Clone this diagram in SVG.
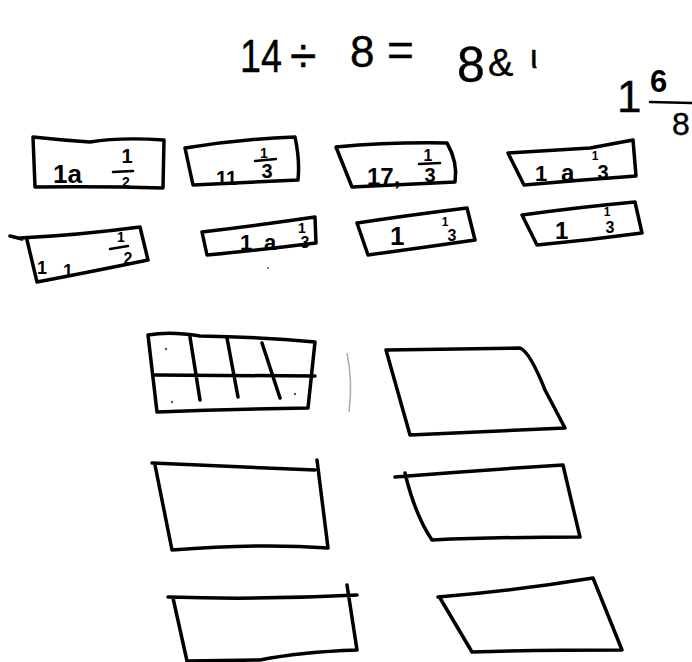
<svg xmlns="http://www.w3.org/2000/svg" width="692" height="662" viewBox="0 0 692 662">
<style>
.ink{fill:none;stroke:#000;stroke-width:3.5;stroke-linecap:round;stroke-linejoin:round}
.thin{fill:none;stroke:#000;stroke-width:2.5;stroke-linecap:round}
.hw{font-family:'Liberation Sans',Arial,sans-serif;fill:#000}
.t{stroke:#000;stroke-width:0.4}
.b{font-weight:bold}
.m{text-anchor:middle}
.dot{fill:#555}
</style>
<rect width="692" height="662" fill="#fff"/>

<g id="equation" class="hw t">
  <text x="240" y="72" font-size="46" textLength="42" lengthAdjust="spacingAndGlyphs">14</text>
  <text x="290" y="72" font-size="48">÷</text>
  <text x="350" y="67" font-size="44">8</text>
  <text x="387" y="66" font-size="46">=</text>
  <text x="457" y="82" font-size="50">8</text>
  <text x="488" y="76" font-size="38">&amp;</text>
  <text x="530" y="68" font-size="34">ι</text>
</g>

<g id="answer" class="hw">
  <text x="617" y="112" font-size="44" class="t">1</text>
  <text x="650" y="92" font-size="31" class="b">6</text>
  <path class="thin" d="M650,102 L692,103"/>
  <text x="672" y="135" font-size="32" class="t">8</text>
</g>

<g id="box-r1c1">
  <path class="ink" d="M33,137 Q60,140 90,142 Q120,137 164,140 L163,188 Q100,186 35,187 Z"/>
  <text class="hw b" x="53" y="183" font-size="26">1a</text>
  <text class="hw b m" x="127" y="163" font-size="20">1</text>
  <path class="thin" d="M113,172 L133,171"/>
  <text class="hw b m" x="126" y="187" font-size="14">2</text>
</g>

<g id="box-r1c2">
  <path class="ink" d="M185,148 Q240,139 295,137 Q300,160 298,180 L193,185 Z"/>
  <text class="hw b" x="216" y="185" font-size="20">11</text>
  <text class="hw b m" x="264" y="158" font-size="14">1</text>
  <path class="thin" d="M255,161 L276,159"/>
  <text class="hw b m" x="267" y="178" font-size="20">3</text>
</g>

<g id="box-r1c3">
  <path class="ink" d="M336,147 Q390,142 447,143 Q458,162 455,182 L352,187 Z"/>
  <text class="hw b" x="367" y="185" font-size="24">17,</text>
  <text class="hw b m" x="428" y="161" font-size="16">1</text>
  <path class="thin" d="M419,164 L440,163"/>
  <text class="hw b m" x="430" y="182" font-size="20">3</text>
</g>

<g id="box-r1c4">
  <path class="ink" d="M508,153 Q560,150 590,148 L633,140 L636,176 Q580,180 524,185 Z"/>
  <text class="hw b" x="535" y="181" font-size="22">1</text>
  <text class="hw b" x="561" y="181" font-size="24">a</text>
  <text class="hw b m" x="595" y="160" font-size="12">1</text>
  <text class="hw b m" x="603" y="179" font-size="20">3</text>
</g>

<g id="box-r2c1">
  <path class="ink" d="M10,236 L22,239 M20,238 Q80,235 140,227 L148,260 Q90,272 37,282 L27,240"/>
  <text class="hw b" x="37" y="274" font-size="18">1</text>
  <text class="hw b" x="63" y="277" font-size="18">1</text>
  <text class="hw b m" x="121" y="242" font-size="14">1</text>
  <path class="thin" d="M110,249 L128,246"/>
  <text class="hw b m" x="128" y="264" font-size="16">2</text>
</g>

<g id="box-r2c2">
  <path class="ink" d="M202,232 Q260,225 315,217 L316,243 Q260,250 207,255 Z"/>
  <text class="hw b" x="240" y="250" font-size="22">1</text>
  <text class="hw b" x="264" y="250" font-size="22">a</text>
  <text class="hw b m" x="302" y="233" font-size="14">1</text>
  <text class="hw b m" x="305" y="248" font-size="16">3</text>
</g>

<g id="box-r2c3">
  <path class="ink" d="M357,223 Q410,215 467,208 L475,240 Q420,248 368,255 Z"/>
  <text class="hw b" x="390" y="245" font-size="26">1</text>
  <text class="hw b m" x="445" y="226" font-size="12">1</text>
  <text class="hw b m" x="452" y="241" font-size="16">3</text>
</g>

<g id="box-r2c4">
  <path class="ink" d="M522,215 Q580,207 635,202 L642,233 Q590,240 537,245 Z"/>
  <text class="hw b" x="555" y="239" font-size="24">1</text>
  <text class="hw b m" x="607" y="216" font-size="12">1</text>
  <text class="hw b m" x="610" y="233" font-size="16">3</text>
</g>

<g id="grid-rect">
  <path class="ink" d="M148,335 Q170,331 200,336 Q260,337 315,342 L308,408 Q230,409 157,412 Z"/>
  <path class="ink" d="M155,375 L315,376 M190,337 L200,400 M227,338 L238,397 M262,343 L280,398"/>
  <circle class="dot" cx="166" cy="349" r="1.2"/>
  <circle class="dot" cx="172" cy="402" r="1.2"/>
  <circle class="dot" cx="295" cy="394" r="1.2"/>
</g>

<path id="faint-mark" d="M347,353 Q353,382 349,412" fill="none" stroke="#aaa" stroke-width="1.5"/>

<g id="shape-r1-right">
  <path class="ink" d="M386,350 L520,348 Q530,352 545,390 L565,428 L410,435 Z"/>
</g>

<g id="shape-r2-left">
  <path class="ink" d="M152,463 Q230,466 315,470 M317,460 L328,548 Q260,543 172,550 L155,465"/>
</g>

<g id="shape-r2-right">
  <path class="ink" d="M395,477 Q480,470 563,465 L570,495 L580,537 Q500,537 432,540 Q415,515 405,473"/>
</g>

<g id="shape-r3-left">
  <path class="ink" d="M168,597 Q260,600 357,595 M347,585 L357,650 Q300,652 260,660 L187,661 L173,598"/>
</g>

<g id="shape-r3-right">
  <path class="ink" d="M438,597 Q520,590 593,578 L622,650 Q540,650 472,652 L440,598"/>
</g>

<circle class="dot" cx="268" cy="268" r="1"/>
</svg>
